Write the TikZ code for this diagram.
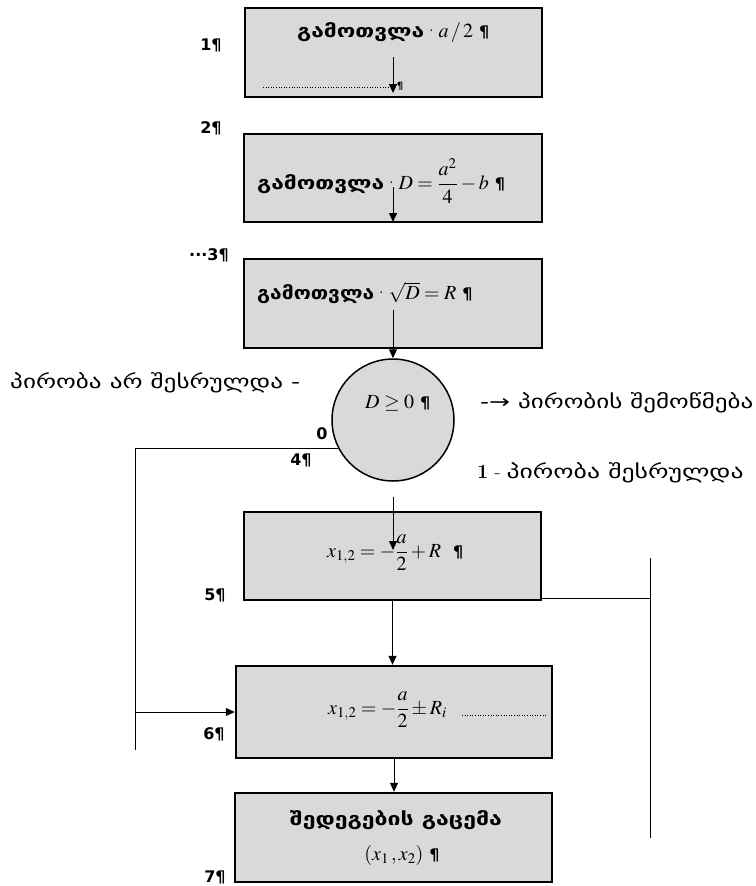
\documentclass[tikz,border=0pt]{standalone}
\usepackage{amsmath}
\usepackage{mathptmx}
\usepackage{graphicx}
\usepackage{fontspec}
\usetikzlibrary{arrows.meta}
\newfontfamily\geo{DejaVu Sans}
\newfontfamily\lbl{DejaVu Sans}
\definecolor{boxgray}{RGB}{217,217,217}
% stretch a piece of text horizontally to a given width
\newcommand\gfit[2]{\resizebox{#1}{\height}{#2}}
\newcommand\pil{{\lbl\bfseries\fontsize{16}{18}\selectfont ¶}}
\begin{document}
\begin{tikzpicture}[x=1pt,y=-1pt,
  box/.style={draw=black,line width=2.4pt,fill=boxgray,inner sep=0pt},
  conn/.style={draw=black,line width=1pt},
  arr/.style={conn,-{Triangle[length=9pt,width=8pt]}},
  dotline/.style={draw=black,line width=1pt,dash pattern=on 1pt off 1.6pt},
  num/.style={inner sep=0pt,font=\lbl\bfseries\fontsize{16}{18}\selectfont},
  txt/.style={inner sep=0pt,anchor=west,font=\fontsize{20}{24}\selectfont},
  geob/.style={font=\geo\bfseries\fontsize{18}{21}\selectfont}]
\useasboundingbox (0,0) rectangle (755,886);

% process boxes
\node[box,minimum width=297pt,minimum height=89pt] (b1) at (393.5,52.5) {};
\node[box,minimum width=298pt,minimum height=88pt] (b2) at (393,178) {};
\node[box,minimum width=298pt,minimum height=89pt] (b3) at (393,303.5) {};
\node[draw=black,line width=1.5pt,fill=boxgray,circle,minimum size=122pt,inner sep=0pt] (c) at (393,420) {};
\node[box,minimum width=297pt,minimum height=88pt] (b5) at (392.5,556) {};
\node[box,minimum width=316pt,minimum height=92pt] (b6) at (394,712) {};
\node[box,minimum width=317pt,minimum height=89pt] (b7) at (393.5,837.5) {};

% box contents
\node[txt] (t1) at (297,33) {\gfit{127pt}{\geo\bfseries\fontsize{18}{21}\selectfont გამოთვლა}\textperiodcentered$a\,/\,2$\ \pil};
\node[txt] (t2) at (257,181) {\gfit{127pt}{\geo\bfseries\fontsize{18}{21}\selectfont გამოთვლა}\textperiodcentered$D=\dfrac{a^2}{4}-b$\ \pil};
\node[txt] (t3) at (257,293) {\gfit{117pt}{\geo\bfseries\fontsize{18}{21}\selectfont გამოთვლა}\textperiodcentered$\sqrt{D}=R$\ \pil};
\node[txt] (tc) at (365,403) {$D\geq 0$\ \pil};
\node[txt] (t5) at (327,553) {$x_{1,2}=-\dfrac{a}{2}+R$\ \ \pil};
\node[txt] (t6) at (328,710) {$x_{1,2}=-\dfrac{a}{2}\pm R_i$};
\node[inner sep=0pt,geob] (t7a) at (396,820) {\gfit{212pt}{შედეგების გაცემა}};
\node[inner sep=0pt,font=\fontsize{20}{24}\selectfont] (t7b) at (402,855) {$(x_1\,,x_2)$\ \pil};

% step numbers
\node[num] (n1) at (211,45) {1¶};
\node[num] (n2) at (211,128) {2¶};
\node[num] (n3) at (209,255) {\textperiodcentered\textperiodcentered\textperiodcentered3¶};
\node[num] (n4) at (301,460) {4¶};
\node[num] (n0) at (322,434) {0};
\node[num] (n5) at (215,595) {5¶};
\node[num] (n6) at (214,734) {6¶};
\node[num] (n7) at (215,877) {7¶};

% explanations
\node[inner sep=0pt,anchor=west] (lno) at (10,383) {\gfit{290pt}{\geo\fontsize{19}{22}\selectfont პირობა არ შესრულდა -}};
\node[inner sep=0pt,anchor=west] (lchk) at (480,403) {\gfit{273pt}{\geo\fontsize{19}{22}\selectfont -→ პირობის შემოწმება}};
\node[inner sep=0pt,anchor=west,font=\fontsize{20}{22}\selectfont] (lyes) at (477,473) {\textbf{1} - \gfit{237pt}{\geo\fontsize{19}{22}\selectfont პირობა შესრულდა}};

% connectors inside the first boxes
\coordinate (a1s) at (393,57);
\coordinate (a1e) at (393,93);
\draw[arr] (a1s) -- (a1e);
\coordinate (d1s) at (263,87);
\coordinate (d1e) at (390,87);
\draw[dotline] (d1s) -- (d1e);
\node[inner sep=0pt,font=\lbl\bfseries\fontsize{10}{11}\selectfont] (p1) at (400,86) {¶};
\coordinate (a2s) at (393,187);
\coordinate (a2e) at (393,222);
\draw[arr] (a2s) -- (a2e);

% main flow
\coordinate (a3s) at (393,310);
\draw[arr] (a3s) -- (c.north);
\coordinate (a4s) at (393,497);
\coordinate (a4e) at (393,550);
\draw[arr] (a4s) -- (a4e);
\draw[arr] (b5.south) -- (b5.south |- b6.north);
\draw[arr] (b6.south) -- (b6.south |- b7.north);

% branch for the unmet condition
\coordinate (lbot) at (135,750);
\coordinate (ljoin) at (135,712);
\draw[conn] (c.207) -| (lbot);
\draw[arr] (ljoin) -- (b6.west);

% line on the right
\coordinate (rtop) at (650,558);
\coordinate (rbot) at (650,838);
\coordinate (rmid) at (650,598);
\draw[conn] (rtop) -- (rbot);
\draw[conn] (rmid -| b5.east) -- (rmid);

% dotted leader after the second formula
\coordinate (d6s) at (462,715);
\coordinate (d6e) at (547,715);
\draw[dotline] (d6s) -- (d6e);
\end{tikzpicture}
\end{document}
